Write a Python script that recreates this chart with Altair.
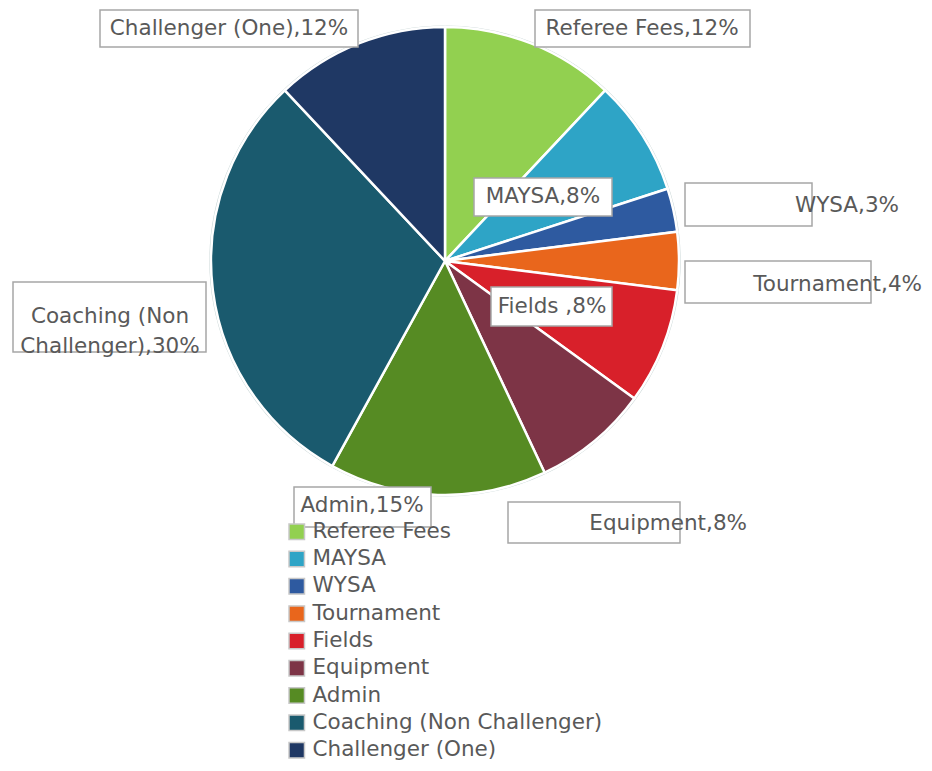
import altair as alt
import pandas as pd

# ---- data ----
categories = ["Referee Fees", "MAYSA", "WYSA", "Tournament", "Fields",
              "Equipment", "Admin", "Coaching (Non Challenger)", "Challenger (One)"]
percents = [12, 8, 3, 4, 8, 8, 15, 30, 12]
colors = ["#92d050", "#2ea4c6", "#2e5aa0", "#e9661c", "#d8202a",
          "#7d3446", "#568b23", "#1a5a6e", "#1f3864"]
label_names = ["Referee Fees", "MAYSA", "WYSA", "Tournament", "Fields ",
               "Equipment", "Admin", "Coaching (Non\nChallenger)", "Challenger (One)"]

# ---- label layout (page pixels; chart origin is at 8,8) ----
box_x = [535, 474, 685, 685, 491, 508, 294, 13, 100]
box_x2 = [750, 612, 812, 871, 612, 680, 431, 206, 358]
box_y = [10, 178, 183, 261, 287, 502, 487, 282, 10]
box_y2 = [47, 216, 226, 303, 326, 543, 527, 352, 47]
text_x = [642, 543, 899, 922, 552, 747, 362, 110, 229]
text_y = [29, 197, 206, 285, 307, 524, 506, 317, 29]
text_align = ["center", "center", "right", "right", "center", "right", "center", "center", "center"]

OFF = 8
FONT = "DejaVu Sans"
TXT = "#595959"

df = pd.DataFrame({"category": categories, "value": percents, "idx": list(range(len(categories)))})

lab = pd.DataFrame({
    "text": [f"{n},{p}%" for n, p in zip(label_names, percents)],
    "bx": [v - OFF for v in box_x], "bx2": [v - OFF for v in box_x2],
    "by": [v - OFF for v in box_y], "by2": [v - OFF for v in box_y2],
    "tx": [v - OFF for v in text_x], "ty": [v - OFF for v in text_y],
    "align": text_align,
})

pie = alt.Chart(df).mark_arc(outerRadius=234, stroke="white", strokeWidth=2.5).encode(
    theta=alt.Theta("value:Q", stack=True),
    order=alt.Order("idx:Q"),
    color=alt.Color("category:N",
                    scale=alt.Scale(domain=categories, range=colors),
                    sort=categories,
                    legend=alt.Legend(orient="none", legendX=278, legendY=513, title=None,
                                      symbolType="square", symbolSize=240,
                                      symbolStrokeColor="#c8c8c8", symbolStrokeWidth=1.5,
                                      labelFontSize=21.5, labelFont=FONT, labelColor=TXT,
                                      rowPadding=4.3, labelOffset=5, padding=0, labelLimit=500)),
    x=alt.value(445 - OFF), y=alt.value(261 - OFF),
)

ring = alt.Chart(df).transform_aggregate(total="sum(value)").mark_arc(
    outerRadius=235, fill=None, stroke="#c9d6d6", strokeWidth=1.2
).encode(theta=alt.Theta("total:Q"), x=alt.value(445 - OFF), y=alt.value(261 - OFF))

boxes = alt.Chart(lab).mark_rect(fill="white", stroke="#a6a6a6", strokeWidth=1.5).encode(
    x=alt.X("bx:Q", scale=None, axis=None), x2="bx2:Q",
    y=alt.Y("by:Q", scale=None, axis=None), y2="by2:Q",
)

def texts(al):
    return alt.Chart(lab).transform_filter(alt.datum.align == al).mark_text(
        align=al, baseline="middle", font=FONT, fontSize=21.5, color=TXT,
        lineBreak="\n", lineHeight=30
    ).encode(x=alt.X("tx:Q", scale=None, axis=None),
             y=alt.Y("ty:Q", scale=None, axis=None),
             text="text:N")

chart = alt.layer(ring, pie, boxes, texts("center"), texts("right")).properties(
    width=916, height=755,
    autosize=alt.AutoSizeParams(type="none"),
    padding=0,
).configure_view(stroke=None)

chart.save("out.html", embed_options={"renderer": "svg", "actions": False})
